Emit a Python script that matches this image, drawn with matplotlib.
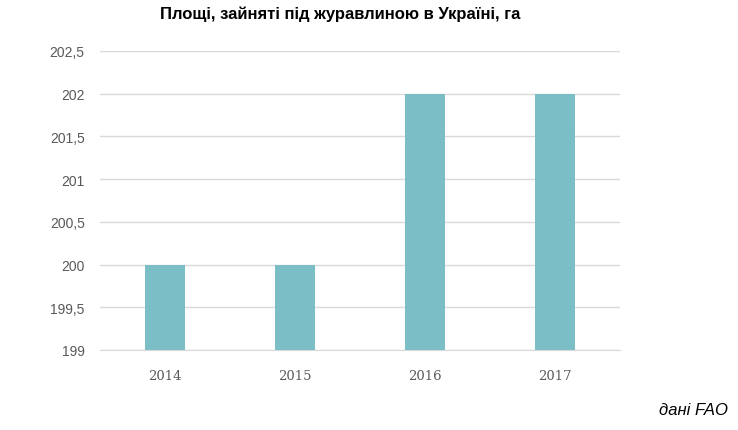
import matplotlib.pyplot as plt
from matplotlib.ticker import FuncFormatter

years = ['2014', '2015', '2016', '2017']
area = [200, 200, 202, 202]

fig = plt.figure(figsize=(7.38, 4.31), dpi=100)
ax = fig.add_axes([100 / 738, 80 / 431, 520 / 738, 299 / 431])

ax.bar(range(len(years)), area, width=0.315, color='#7bbec6', zorder=3)
ax.set_xlim(-0.5, len(years) - 0.5)
ax.set_ylim(199, 202.5)
ax.set_yticks([199, 199.5, 200, 200.5, 201, 201.5, 202, 202.5])
ax.yaxis.set_major_formatter(FuncFormatter(lambda v, p: f'{v:g}'.replace('.', ',')))
ax.set_xticks(range(len(years)))
ax.set_xticklabels(years, family='DejaVu Serif', fontsize=9.5, color='#595959')
for lab in ax.get_yticklabels():
    lab.set_family('Liberation Sans')
    lab.set_fontsize(10)
    lab.set_color('#595959')

ax.grid(axis='y', color='#d9d9d9', linewidth=1, zorder=0)
for s in ['top', 'right', 'left']:
    ax.spines[s].set_visible(False)
ax.spines['bottom'].set_color('#d9d9d9')
ax.tick_params(length=0)
ax.tick_params(axis='y', pad=11)
ax.tick_params(axis='x', pad=14)

fig.text(340 / 738, 1 - 14 / 431, 'Площі, зайняті під журавлиною в Україні, га',
         ha='center', va='center', fontsize=12, fontweight='bold',
         family='Liberation Sans', color='black')
fig.text(728 / 738, 1 - 411 / 431, 'дані FAO', ha='right', va='center',
         fontsize=12, style='italic', family='Liberation Sans', color='black')

fig.savefig('out.png', dpi=100)
